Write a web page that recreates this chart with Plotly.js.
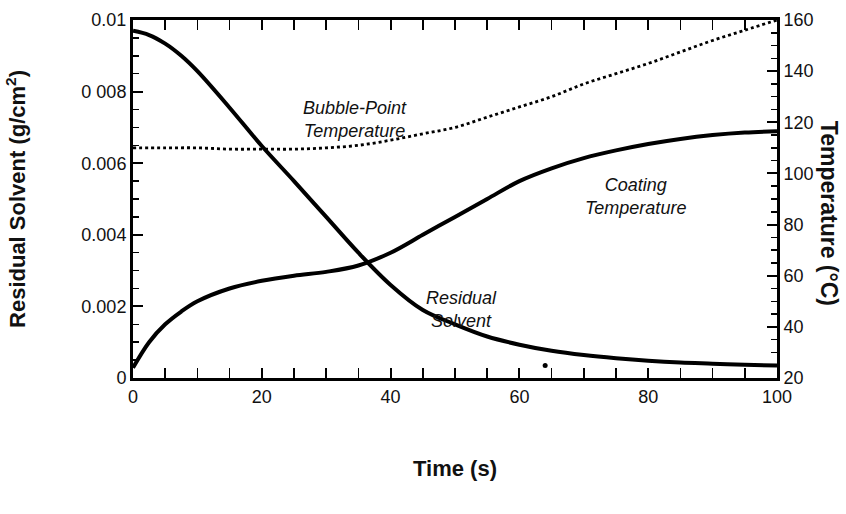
<!DOCTYPE html>
<html>
<head>
<meta charset="utf-8">
<script src="https://cdn.plot.ly/plotly-3.0.1.min.js"></script>
<style>
html,body{margin:0;padding:0;background:#fff;}
#chart{width:846px;height:514px;}
</style>
</head>
<body>
<div id="chart"></div>
<script>
// Time (s)
const time = [0, 2.5, 5, 7.5, 10, 15, 20, 25, 30, 35, 40, 45, 50, 55, 60, 65, 70, 75, 80, 85, 90, 95, 100];
// Residual solvent (g/cm^2)
const residualSolvent = [0.0097, 0.00958, 0.00934, 0.0090, 0.00857, 0.00755, 0.00648, 0.0055, 0.0045, 0.0035, 0.0026, 0.0019, 0.0015, 0.00116, 0.00093, 0.00076, 0.00064, 0.00055, 0.00048, 0.00043, 0.0004, 0.00037, 0.00035];
// Coating temperature (°C)
const coatingTemp = [24, 34, 41, 46, 50, 55, 58, 60, 61.5, 64, 69, 76, 83, 90, 97, 102, 106, 109, 111.5, 113.5, 115, 116, 116.5];
// Bubble-point temperature (°C)
const bubbleTime = [0, 5, 10, 15, 20, 25, 30, 35, 40, 45, 50, 55, 60, 65, 70, 75, 80, 85, 90, 95, 100];
const bubbleTemp = [110, 110, 110, 109.5, 109.5, 109.5, 110, 111, 113, 115.5, 118, 122, 126, 130, 135, 139, 143, 147.5, 152, 156, 160];
// Scan speck (residual-solvent axis)
const speckTime = [64];
const speckValue = [0.00035];

const leftTickVals = [0, 0.002, 0.004, 0.006, 0.008, 0.01];
const leftTickText = ['0', '0.002', '0.004', '0.006', '0 008', '0.01'];
const rightTickVals = [20, 40, 60, 80, 100, 120, 140, 160];
const xTickVals = [0, 20, 40, 60, 80, 100];

const fam = 'Liberation Sans, Arial, Helvetica, sans-serif';
const tickFont = {family: fam, size: 18, color: '#111'};
const titleFont = {family: fam, size: 22, color: '#111', weight: 'bold'};
const rightTitleFont = {family: fam, size: 23, color: '#111', weight: 'bold'};
const annFont = {family: fam, size: 18, color: '#111', style: 'italic'};

const traces = [
  {x: time, y: residualSolvent, type: 'scatter', mode: 'lines', line: {color: '#000', width: 4, shape: 'spline'}, yaxis: 'y', hoverinfo: 'skip'},
  {x: time, y: coatingTemp, type: 'scatter', mode: 'lines', line: {color: '#000', width: 4, shape: 'spline'}, yaxis: 'y2', hoverinfo: 'skip'},
  {x: bubbleTime, y: bubbleTemp, type: 'scatter', mode: 'lines', line: {color: '#000', width: 2.8, dash: 'dot', shape: 'spline'}, yaxis: 'y2', hoverinfo: 'skip'},
  {x: speckTime, y: speckValue, type: 'scatter', mode: 'markers', marker: {color: '#000', size: 5}, yaxis: 'y', hoverinfo: 'skip'}
];

const layout = {
  width: 846, height: 514,
  margin: {l: 133, r: 69, t: 20, b: 136},
  paper_bgcolor: '#fff', plot_bgcolor: '#fff',
  showlegend: false,
  xaxis: {
    range: [0, 100], tickvals: xTickVals, ticks: 'inside', ticklen: 10, tickwidth: 2, tickcolor: '#000',
    minor: {dtick: 5, ticks: 'inside', ticklen: 6, tickwidth: 1.5, tickcolor: '#000'},
    showline: true, linecolor: '#000', linewidth: 3, mirror: 'allticks', showgrid: false, zeroline: false,
    tickfont: tickFont,
    title: {text: 'Time (s)', font: titleFont, standoff: 56}
  },
  yaxis: {
    range: [0, 0.01], tickvals: leftTickVals, ticktext: leftTickText, ticks: 'inside', ticklen: 10, tickwidth: 2, tickcolor: '#000',
    minor: {dtick: 0.0005, ticks: 'inside', ticklen: 6, tickwidth: 1.5, tickcolor: '#000'},
    showline: true, linecolor: '#000', linewidth: 3, showgrid: false, zeroline: false,
    tickfont: tickFont,
    title: {text: 'Residual Solvent (g/cm<sup>2</sup>)', font: titleFont, standoff: 50}
  },
  yaxis2: {
    range: [20, 160], tickvals: rightTickVals, overlaying: 'y', side: 'right', ticks: 'inside', ticklen: 10, tickwidth: 2, tickcolor: '#000',
    minor: {dtick: 5, ticks: 'inside', ticklen: 6, tickwidth: 1.5, tickcolor: '#000'},
    showline: true, linecolor: '#000', linewidth: 3, showgrid: false, zeroline: false,
    tickfont: tickFont
  },
  annotations: [
    {text: 'Temperature (°C)', xref: 'paper', yref: 'paper', x: 1.08, y: 0.46, xanchor: 'center', yanchor: 'middle', textangle: 90, showarrow: false, font: rightTitleFont},
    {text: 'Bubble-Point<br>Temperature', xref: 'x', yref: 'y2', x: 34.5, y: 121, showarrow: false, font: annFont, align: 'center'},
    {text: 'Coating<br>Temperature', xref: 'x', yref: 'y2', x: 78, y: 91, showarrow: false, font: annFont, align: 'center'},
    {text: 'Residual<br>Solvent', xref: 'x', yref: 'y', x: 51, y: 0.0019, showarrow: false, font: annFont, align: 'center'}
  ]
};

Plotly.newPlot('chart', traces, layout, {staticPlot: true, displayModeBar: false});
</script>
</body>
</html>
